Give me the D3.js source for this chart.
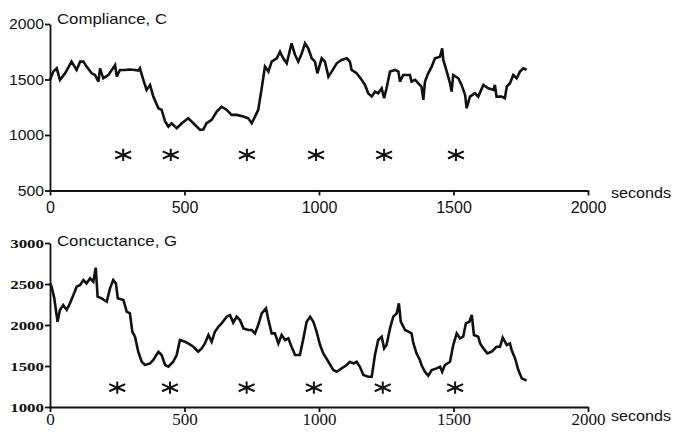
<!DOCTYPE html>
<html>
<head>
<meta charset="utf-8">
<script src="https://cdn.jsdelivr.net/npm/d3@7"></script>
<style>
  html, body { margin: 0; padding: 0; background: #fff; }
  svg { display: block; }
</style>
</head>
<body>
<svg id="chart" width="673" height="435"></svg>
<script>
// Compliance trace, [seconds, value]
const compliance = [
  [0,1496],[12,1571],[25,1601],[37,1496],[56,1556],[80,1661],[99,1586],[112,1661],[124,1661],[136,1616],
  [155,1556],[167,1541],[180,1481],[186,1601],[198,1511],[217,1541],[242,1631],[248,1526],[260,1586],[279,1586],
  [297,1590],[316,1586],[328,1580],[334,1601],[347,1496],[359,1406],[372,1451],[384,1346],[403,1241],[415,1226],
  [428,1121],[440,1076],[452,1106],[471,1061],[490,1106],[514,1151],[533,1106],[558,1046],[570,1050],[582,1106],
  [601,1136],[620,1211],[638,1256],[657,1226],[675,1181],[694,1181],[719,1166],[737,1151],[750,1106],[762,1166],
  [774,1226],[787,1421],[799,1616],[812,1571],[824,1661],[843,1691],[855,1751],[867,1691],[880,1646],[898,1826],
  [911,1721],[923,1661],[936,1736],[948,1826],[960,1781],[973,1691],[985,1661],[994,1556],[1010,1691],[1022,1661],
  [1035,1526],[1047,1571],[1066,1646],[1084,1676],[1103,1691],[1115,1661],[1121,1586],[1140,1556],[1159,1496],[1171,1451],
  [1183,1376],[1196,1346],[1208,1391],[1220,1376],[1233,1421],[1242,1331],[1251,1421],[1264,1571],[1283,1586],[1295,1571],
  [1301,1481],[1313,1541],[1338,1541],[1344,1481],[1357,1496],[1369,1466],[1381,1436],[1388,1316],[1394,1481],[1406,1556],
  [1419,1616],[1431,1691],[1450,1706],[1458,1781],[1462,1676],[1475,1571],[1487,1466],[1493,1391],[1499,1541],[1518,1511],
  [1530,1451],[1543,1361],[1549,1241],[1561,1346],[1580,1376],[1592,1346],[1611,1451],[1629,1421],[1648,1406],[1654,1451],
  [1660,1346],[1679,1346],[1691,1331],[1698,1436],[1710,1466],[1722,1541],[1735,1511],[1747,1571],[1760,1601],[1772,1586]
];

// Conductance trace, [seconds, value]
const conductance = [
  [0,2508],[6,2467],[16,2325],[28,2040],[37,2183],[49,2244],[62,2183],[74,2264],[87,2366],[99,2467],
  [112,2488],[124,2549],[136,2508],[149,2569],[161,2528],[170,2699],[177,2345],[192,2325],[211,2284],[223,2447],
  [235,2549],[245,2508],[252,2325],[273,2305],[285,2162],[297,2142],[306,1918],[316,1857],[328,1674],[341,1552],
  [353,1512],[372,1532],[384,1573],[403,1674],[415,1634],[428,1512],[440,1491],[458,1552],[471,1634],[483,1817],
  [502,1796],[514,1776],[533,1735],[551,1674],[564,1715],[576,1776],[589,1878],[601,1796],[613,1918],[626,1979],
  [638,2020],[657,2101],[669,2122],[681,2030],[694,2101],[706,2061],[719,1959],[737,1939],[750,1939],[762,1898],
  [774,2000],[787,2142],[803,2203],[812,2061],[824,1898],[836,1898],[849,1776],[861,1878],[874,1817],[886,1837],
  [898,1735],[911,1634],[929,1634],[942,1837],[954,2040],[967,2101],[979,2040],[991,1918],[1004,1756],[1016,1654],
  [1035,1552],[1053,1451],[1066,1430],[1084,1471],[1103,1512],[1115,1552],[1128,1532],[1140,1552],[1152,1491],[1165,1390],
  [1183,1369],[1196,1369],[1208,1634],[1220,1817],[1233,1857],[1242,1715],[1251,1756],[1264,1959],[1276,2101],[1289,2142],
  [1297,2264],[1304,2040],[1320,1939],[1332,1918],[1344,1898],[1351,1776],[1363,1650],[1375,1573],[1381,1512],[1394,1430],
  [1406,1381],[1419,1451],[1437,1471],[1450,1491],[1458,1430],[1468,1512],[1487,1552],[1499,1756],[1512,1898],[1524,1837],
  [1536,1857],[1546,2020],[1559,2040],[1568,2122],[1576,1878],[1592,1857],[1599,1776],[1611,1715],[1626,1654],[1642,1674],
  [1660,1735],[1673,1735],[1683,1845],[1698,1756],[1710,1776],[1716,1695],[1729,1593],[1741,1451],[1754,1349],[1766,1329],
  [1772,1329]
];

// Stimulus marks (seconds) and the level they are drawn at
const complianceMarks = [272, 449, 732, 989, 1242, 1509];
const complianceMarkLevel = 820;
const conductanceMarks = [250, 446, 731, 981, 1237, 1506];
const conductanceMarkLevel = 1235;

// Tick values
const timeTicks = [0, 500, 1000, 1500, 2000];
const complianceTicks = [500, 1000, 1500, 2000];
const conductanceTicks = [1000, 1500, 2000, 2500, 3000];

const svg = d3.select("#chart");
const sans = "'Liberation Sans', Arial, Helvetica, sans-serif";
const serif = "'Liberation Serif', 'Times New Roman', serif";

const x = d3.scaleLinear().domain([0, 2000]).range([50, 588]);

// six-armed asterisk, drawn wider than tall
const asterisk = {
  draw(ctx, size) {
    const r = Math.sqrt(size) / 2;
    const u = r * 1.3, t = r * 0.58;
    ctx.moveTo(0, -r); ctx.lineTo(0, r);
    ctx.moveTo(-u, -t); ctx.lineTo(u, t);
    ctx.moveTo(-u, t); ctx.lineTo(u, -t);
  }
};

function panel(opts) {
  const y = d3.scaleLinear().domain(opts.yDomain).range(opts.yRange);
  const g = svg.append("g");

  // y axis
  const ya = g.append("g")
    .attr("transform", `translate(${x(0)},0)`)
    .call(d3.axisLeft(y).tickValues(opts.yTicks).tickSize(5).tickSizeOuter(0).tickPadding(1).tickFormat(d3.format("d")));
  ya.selectAll("path, line").attr("stroke", "#111").attr("stroke-width", 1.8);
  ya.selectAll("text")
    .attr("fill", "#111")
    .style("font-family", opts.yFont)
    .style("font-size", opts.ySize + "px")
    .style("font-weight", opts.yWeight || "normal")
    .each(function () {
      if (opts.yStretch) {
        const w = this.getComputedTextLength();
        d3.select(this).attr("textLength", w * opts.yStretch).attr("lengthAdjust", "spacingAndGlyphs");
      }
    });

  // x axis
  const xa = g.append("g")
    .attr("transform", `translate(0,${y(opts.yDomain[0])})`)
    .call(d3.axisBottom(x).tickValues(timeTicks).tickSize(5).tickSizeOuter(0).tickPadding(opts.xPad).tickFormat(d3.format("d")));
  xa.selectAll("path, line").attr("stroke", "#111").attr("stroke-width", 1.8);
  xa.selectAll("text")
    .attr("fill", "#111")
    .style("font-family", opts.xFont)
    .style("font-size", opts.xSize + "px");

  // trace
  const line = d3.line().x(d => x(d[0])).y(d => y(d[1]));
  g.append("path")
    .datum(opts.data)
    .attr("d", line)
    .attr("fill", "none")
    .attr("stroke", "#111")
    .attr("stroke-width", 2.6)
    .attr("stroke-linejoin", "miter")
    .attr("stroke-miterlimit", 3);

  // stimulus asterisks
  const sym = d3.symbol().type(asterisk).size(150);
  g.selectAll(".mark")
    .data(opts.marks)
    .join("path")
    .attr("class", "mark")
    .attr("transform", d => `translate(${x(d)},${y(opts.markLevel)})`)
    .attr("d", sym)
    .attr("fill", "none")
    .attr("stroke", "#111")
    .attr("stroke-width", 2);

  // title
  g.append("text")
    .attr("x", 57)
    .attr("y", opts.titleY)
    .attr("textLength", opts.titleLen)
    .attr("lengthAdjust", "spacingAndGlyphs")
    .style("font-family", sans)
    .style("font-size", "15px")
    .attr("fill", "#111")
    .text(opts.title);

  // unit label
  g.append("text")
    .attr("x", 611)
    .attr("y", opts.unitY)
    .attr("textLength", 60)
    .attr("lengthAdjust", "spacingAndGlyphs")
    .style("font-family", sans)
    .style("font-size", "15px")
    .attr("fill", "#111")
    .text("seconds");
}

panel({
  data: compliance,
  yDomain: [500, 2000], yRange: [190.5, 24],
  yTicks: complianceTicks,
  yFont: sans, ySize: 15, yStretch: 1.05,
  xFont: sans, xSize: 16, xPad: 6,
  marks: complianceMarks, markLevel: complianceMarkLevel,
  title: "Compliance, C", titleY: 24, titleLen: 110,
  unitY: 198
});

panel({
  data: conductance,
  yDomain: [1000, 3000], yRange: [407, 243],
  yTicks: conductanceTicks,
  yFont: serif, ySize: 13, yWeight: "bold", yStretch: 1.3,
  xFont: serif, xSize: 17, xPad: 1,
  marks: conductanceMarks, markLevel: conductanceMarkLevel,
  title: "Concuctance, G", titleY: 246, titleLen: 120,
  unitY: 421
});
</script>
</body>
</html>
